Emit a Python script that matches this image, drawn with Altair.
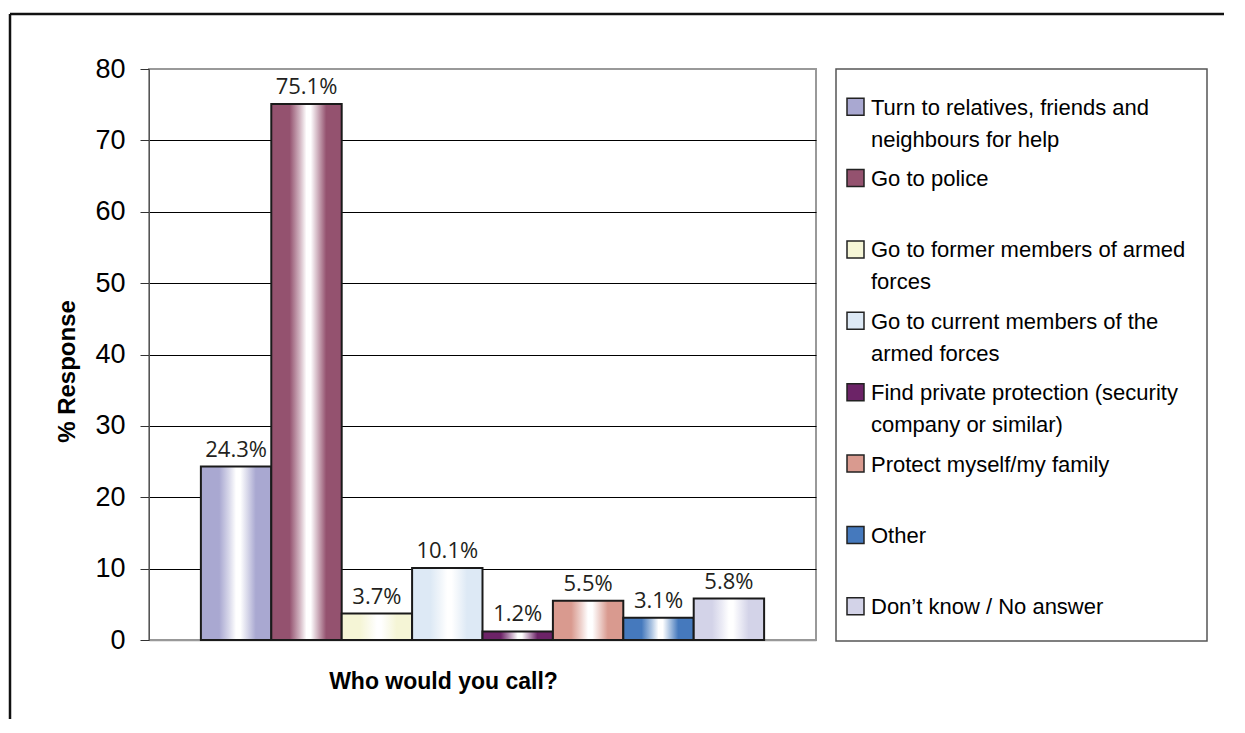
import altair as alt
import pandas as pd

categories = [
    "Turn to relatives, friends and neighbours for help",
    "Go to police",
    "Go to former members of armed forces",
    "Go to current members of the armed forces",
    "Find private protection (security company or similar)",
    "Protect myself/my family",
    "Other",
    "Don\u2019t know / No answer",
]
values = [24.3, 75.1, 3.7, 10.1, 1.2, 5.5, 3.1, 5.8]
colors = ["#a9a8d1", "#94526f", "#f5f5d6", "#dde9f5", "#6c2367", "#d99a8f", "#4579bd", "#d3d3e8"]
legend_line1 = [
    "Turn to relatives, friends and",
    "Go to police",
    "Go to former members of armed",
    "Go to current members of the",
    "Find private protection (security",
    "Protect myself/my family",
    "Other",
    "Don\u2019t know / No answer",
]
legend_line2 = ["neighbours for help", "", "forces", "armed forces", "company or similar)", "", "", ""]
y_ticks = [0, 10, 20, 30, 40, 50, 60, 70, 80]

df = pd.DataFrame({"cat": categories, "value": values, "line1": legend_line1, "line2": legend_line2})
one = pd.DataFrame({"k": [0]})

W, H = 667, 571


def mix(c, t):
    r, g, b = int(c[1:3], 16), int(c[3:5], 16), int(c[5:7], 16)
    r = round(r + (255 - r) * t)
    g = round(g + (255 - g) * t)
    b = round(b + (255 - b) * t)
    return "#%02x%02x%02x" % (r, g, b)


def grad(c):
    light = mix(c, 0.55)
    stops = [(c, 0.0), (c, 0.26), (light, 0.40), ("#ffffff", 0.50), ("#ffffff", 0.56),
             (light, 0.66), (c, 0.78), (c, 1.0)]
    return alt.Gradient(gradient="linear", x1=0, x2=1, y1=0, y2=0,
                        stops=[alt.GradientStop(color=s, offset=o) for s, o in stops])


xscale = alt.Scale(domain=categories, paddingInner=0, paddingOuter=0.737)
yscale = alt.Scale(domain=[0, 80], nice=False)

xaxis = alt.Axis(labels=False, ticks=False, domainColor="#999999", domainWidth=1.5,
                 title="Who would you call?", titleFont="Liberation Sans", titleFontSize=23,
                 titleFontWeight="bold", titleColor="black", titleX=294, titleY=48,
                 titleBaseline="alphabetic", titleAlign="center")
yaxis = alt.Axis(values=y_ticks, title="% Response", titleFont="Liberation Sans", titleFontSize=24,
                 titleFontWeight="bold", titleColor="black", titleAngle=270, titleX=-75, titleY=302,
                 titleBaseline="alphabetic", titleAlign="center",
                 labelFont="Liberation Sans", labelFontSize=27, labelColor="black", labelPadding=15,
                 tickSize=9, tickColor="#333333", domainColor="#555555", grid=True,
                 gridColor={"condition": {"test": "datum.value == 0 || datum.value == 80",
                                          "value": "#999999"}, "value": "#000000"},
                 gridWidth=1)

bar_layers = []
for c, col in zip(categories, colors):
    bar_layers.append(
        alt.Chart(df).transform_filter(alt.datum.cat == c)
        .mark_bar(color=grad(col), stroke="#1a1a1a", strokeWidth=2)
        .encode(x=alt.X("cat:N", scale=xscale, sort=categories, axis=xaxis),
                y=alt.Y("value:Q", scale=yscale, axis=yaxis))
    )

labels = (
    alt.Chart(df)
    .transform_calculate(lab="format(datum.value, '.1f') + '%'")
    .mark_text(baseline="alphabetic", dy=-10, font="Open Sans", fontSize=22, color="#231f20")
    .encode(x=alt.X("cat:N", scale=xscale, sort=categories, axis=xaxis),
            y=alt.Y("value:Q", scale=yscale, axis=yaxis),
            text="lab:N")
)

main = alt.layer(*bar_layers, labels)

ly = alt.Y("cat:N", sort=categories, scale=alt.Scale(domain=categories), axis=None)
box = alt.Chart(one).mark_rect(fill="white", stroke="#555555", strokeWidth=1.5).encode(
    x=alt.value(687), x2=alt.value(1058), y=alt.value(0), y2=alt.value(572))
squares = alt.Chart(df).mark_square(size=289, stroke="#222222", strokeWidth=1.5, opacity=1,
                                    filled=True, yOffset=2).encode(
    x=alt.value(706.5), y=ly,
    color=alt.Color("cat:N", scale=alt.Scale(domain=categories, range=colors), legend=None))
text1 = alt.Chart(df).mark_text(align="left", baseline="alphabetic", dy=10, font="Liberation Sans",
                                fontSize=22, color="black").encode(x=alt.value(722), y=ly, text="line1:N")
text2 = alt.Chart(df).mark_text(align="left", baseline="alphabetic", dy=42, font="Liberation Sans",
                                fontSize=22, color="black").encode(x=alt.value(722), y=ly, text="line2:N")
legend = alt.layer(box, squares, text1, text2)

border_top = alt.Chart(one).mark_rule(color="#111111", strokeWidth=2.5).encode(
    x=alt.value(-139), x2=alt.value(1075), y=alt.value(-55))
border_left = alt.Chart(one).mark_rule(color="#111111", strokeWidth=2.5).encode(
    x=alt.value(-139), y=alt.value(-55), y2=alt.value(650))

chart = (
    alt.layer(main, legend, border_top, border_left)
    .resolve_scale(y="independent", x="independent", color="independent")
    .properties(width=W, height=H, padding={"left": 0, "top": 4, "right": 0, "bottom": 0},
                background="white")
    .configure_view(stroke="#999999", strokeWidth=2)
)

chart.save("out.html", embed_options={"renderer": "svg", "actions": False})
